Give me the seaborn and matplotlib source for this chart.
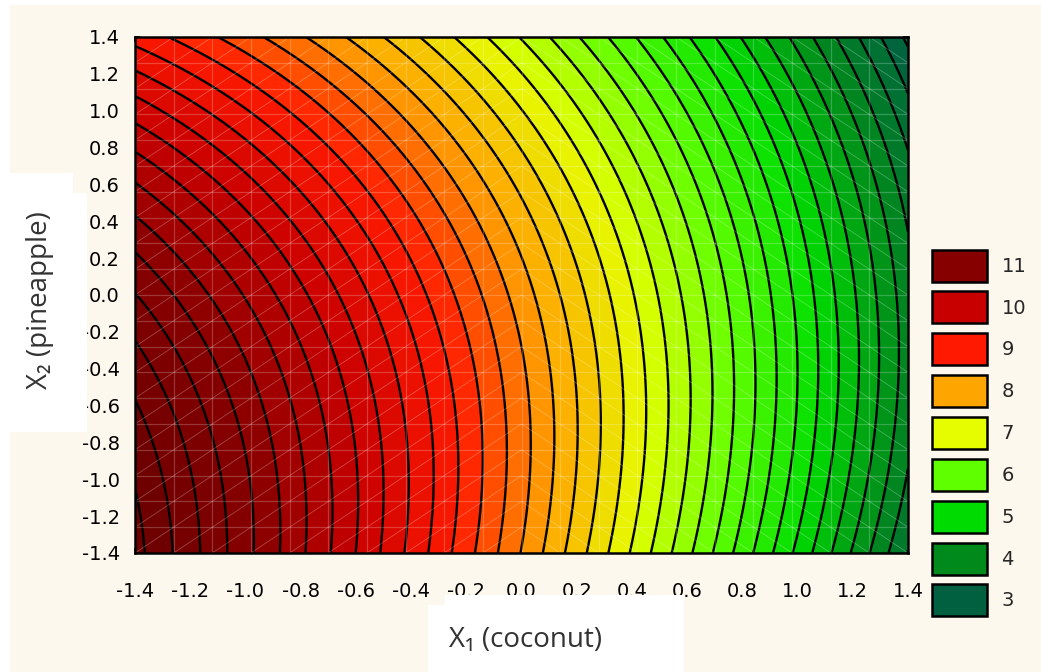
import numpy as np
import matplotlib
matplotlib.use("Agg")
import matplotlib.pyplot as plt
from matplotlib.patches import Patch, Rectangle
from matplotlib.collections import LineCollection
import seaborn as sns

# Fitted response surface (coded factors X1 = coconut, X2 = pineapple)
b0 = 8.125
b_lin = [-2.645, -0.539]     # b1, b2
b_quad = [-0.289, -0.327]    # b11, b22
b_int = 0.304                # b12
b_cub = -0.042               # b112 (X1^2 * X2)

x_range = [-1.4, 1.4]
tick_values = [-1.4, -1.2, -1.0, -0.8, -0.6, -0.4, -0.2, 0.0, 0.2, 0.4, 0.6, 0.8, 1.0, 1.2, 1.4]

legend_levels = [11, 10, 9, 8, 7, 6, 5, 4, 3]
level_colors = ["#005238", "#006040", "#008a1c", "#00dd00", "#5fff00", "#e5ff00",
                "#ffa500", "#ff1a00", "#c80000", "#880000", "#6c0000"]   # values 2..12
contour_step = 0.25

sns.set_theme(style="ticks")
plt.rcParams["font.family"] = ["DejaVu Sans"]
plt.rcParams["axes.unicode_minus"] = False

cream = "#fdf8ee"
fig = plt.figure(figsize=(10.41, 6.72), dpi=100, facecolor="white")
fig.add_artist(Rectangle((10 / 1041, 0), 1, (672 - 5) / 672, transform=fig.transFigure,
                         facecolor=cream, edgecolor="none", zorder=-5))

ax = fig.add_axes([135 / 1041, (672 - 553) / 672, 773 / 1041, 516 / 672])

x1 = np.linspace(x_range[0], x_range[1], 281)
x2 = np.linspace(x_range[0], x_range[1], 281)
X1, X2 = np.meshgrid(x1, x2)
Z = (b0 + b_lin[0] * X1 + b_lin[1] * X2 + b_quad[0] * X1 ** 2
     + b_quad[1] * X2 ** 2 + b_int * X1 * X2 + b_cub * X1 ** 2 * X2)

cmap = sns.blend_palette(level_colors, as_cmap=True)
norm = matplotlib.colors.Normalize(vmin=2, vmax=12)
levels = np.arange(2.0, 12.5 + 1e-9, contour_step)

ax.contourf(X1, X2, Z, levels=levels, cmap=cmap, norm=norm, antialiased=True)
ax.contour(X1, X2, Z, levels=levels, colors="black", linewidths=1.7)

# faint mesh of the surface triangulation
edges = np.linspace(x_range[0], x_range[1], 21)
segs = []
for e in edges:
    segs.append([(e, x_range[0]), (e, x_range[1])])
    segs.append([(x_range[0], e), (x_range[1], e)])
ax.add_collection(LineCollection(segs, colors="white", linewidths=0.9, alpha=0.22))
diag = []
for i in range(len(edges) - 1):
    for j in range(len(edges) - 1):
        xa, xb = edges[i], edges[i + 1]
        ya, yb = edges[j], edges[j + 1]
        if (xa + xb) / 2 < 0:
            diag.append([(xa, ya), (xb, yb)])
        else:
            diag.append([(xa, yb), (xb, ya)])
ax.add_collection(LineCollection(diag, colors="white", linewidths=0.6, alpha=0.28))

ax.set_xlim(x_range)
ax.set_ylim(x_range)
ax.set_xticks(tick_values)
ax.set_yticks(tick_values)
ax.set_xticklabels([f"{v:.1f}" for v in tick_values])
ax.set_yticklabels([f"{v:.1f}" for v in tick_values])
ax.set_xticks(np.arange(-1.3, 1.4, 0.2), minor=True)
ax.set_yticks(np.arange(-1.3, 1.4, 0.2), minor=True)
ax.tick_params(which="both", direction="in", length=3.5, width=1.2, color="black",
               top=True, right=True, labelsize=14, labelcolor="black")
ax.tick_params(axis="x", pad=21)
ax.tick_params(axis="y", pad=11)
for s in ax.spines.values():
    s.set_linewidth(1.8)
    s.set_color("black")
ax.set_xlabel("")
ax.set_ylabel("")

# white panels behind the axis titles
for (x0, y0, x1p, y1p) in [(428, 605, 684, 672), (445, 595, 684, 672),
                           (0, 193, 87, 432), (0, 173, 73, 432)]:
    fig.add_artist(Rectangle((x0 / 1041, (672 - y1p) / 672), (x1p - x0) / 1041,
                             (y1p - y0) / 672, transform=fig.transFigure,
                             facecolor="white", edgecolor="none", zorder=3))

label_font = ["Open Sans", "DejaVu Sans"]
fig.text(526 / 1041, (672 - 640) / 672, "X\u2081 (coconut)", ha="center", va="center",
         fontsize=20, color="#333333", family=label_font, zorder=4)
fig.text(40 / 1041, (672 - 300) / 672, "X\u2082 (pineapple)", ha="center", va="center",
         rotation=90, fontsize=20, color="#333333", family=label_font, zorder=4)

handles = [Patch(facecolor=cmap(norm(v)), edgecolor="black", linewidth=1.8,
                 label=str(v)) for v in legend_levels]
fig.legend(handles=handles, loc="center left", bbox_to_anchor=(914 / 1041, 0.3557),
           frameon=False, fontsize=14, handlelength=2.85, handleheight=2.15,
           labelspacing=0.51, handletextpad=0.75, borderpad=0.4)

fig.savefig("out.png", dpi=100, facecolor=fig.get_facecolor())
